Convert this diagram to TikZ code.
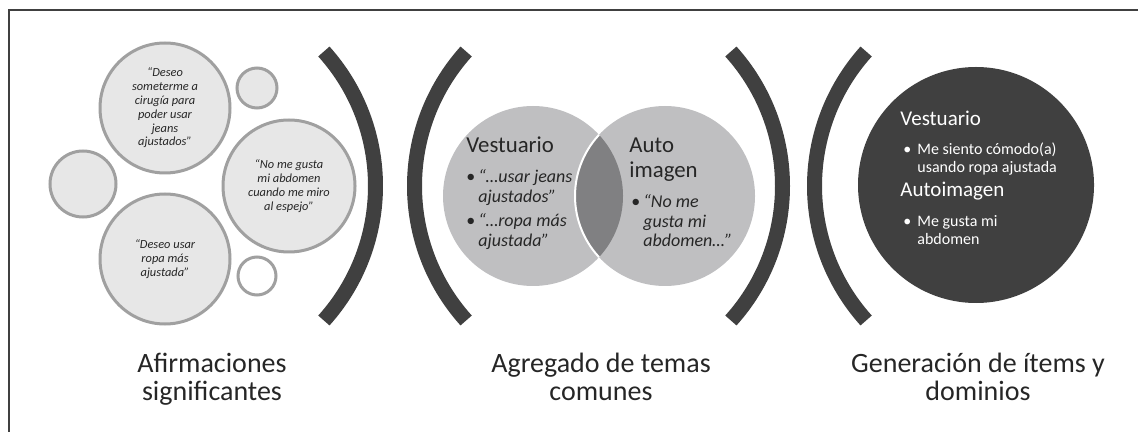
\documentclass[tikz,border=0pt]{standalone}
\usepackage{fontspec}
\setmainfont{Carlito}
\usetikzlibrary{positioning}
\definecolor{darkgrey}{HTML}{404040}
\definecolor{textgrey}{HTML}{262626}
\definecolor{bubblefill}{HTML}{E7E7E7}
\definecolor{bubbleline}{HTML}{A0A0A0}
\definecolor{venngrey}{HTML}{BFBFC1}
\definecolor{lensgrey}{HTML}{808082}
\tikzset{
  bubble/.style={circle,draw=bubbleline,line width=1.5pt,fill=bubblefill,inner sep=0pt,
    align=center,text=textgrey,font=\fontsize{6.2pt}{6.9pt}\selectfont\itshape},
  paren/.style={draw=darkgrey,line width=7.5pt},
  venn/.style={circle,fill=venngrey,inner sep=0pt,minimum size=90pt},
  darkdisc/.style={circle,fill=darkgrey,inner sep=0pt,minimum size=118pt},
  vtitle/.style={anchor=base west,inner sep=0pt,text=textgrey,font=\fontsize{11.4pt}{12.5pt}\selectfont},
  vitem/.style={anchor=base west,inner sep=0pt,text=textgrey,font=\fontsize{9pt}{9.6pt}\selectfont\itshape},
  gtitle/.style={anchor=base west,inner sep=0pt,text=white,font=\fontsize{10.5pt}{12pt}\selectfont},
  gitem/.style={anchor=base west,inner sep=0pt,text=white,font=\fontsize{8pt}{8.6pt}\selectfont},
  stagetitle/.style={anchor=base,inner sep=0pt,text=textgrey,font=\fontsize{14pt}{14pt}\selectfont}
}
\newcommand{\bitem}[2]{\begin{tabular}[t]{@{}l@{\hspace{1.5pt}}l@{}}{\upshape\textbullet}&#1\\&#2\end{tabular}}

\begin{document}
\begin{tikzpicture}[x=0.5pt,y=-0.5pt]
\useasboundingbox (0,0) rectangle (1138,432);
\draw[line width=0.6pt,darkgrey] (9,432) |- (1138,10);
% significant statements
\node (c1) [bubble,minimum size=65pt] at (165,108) {“Deseo\\someterme a\\cirugía para\\poder usar\\jeans\\ajustados”};
\node (c2) [bubble,minimum size=20pt] at (257,88) {};
\node (c3) [bubble,minimum size=33pt] at (83,184) {};
\node (c4) [bubble,minimum size=66pt] at (289,186) {“No me gusta\\mi abdomen\\cuando me miro\\al espejo”};
\node (c5) [bubble,minimum size=65pt] at (165,259) {“Deseo usar\\ropa más\\ajustada”};
\node (c6) [bubble,fill=white,minimum size=19pt] at (257,276) {};
%
\coordinate (p1) at (174.5,186);
\coordinate (p2) at (615.5,186);
\coordinate (p3) at (581.5,186);
\coordinate (p4) at (1015.5,186);
\draw[paren] (p1) ++(-42:201) arc (-42:42:201);
\draw[paren] (p2) ++(138:201) arc (138:222:201);
\draw[paren] (p3) ++(-42:201) arc (-42:42:201);
\draw[paren] (p4) ++(138:201) arc (138:222:201);
% common themes
\node (vest) [venn] at (533,196) {};
\node (auto) [venn] at (665,196) {};
\begin{scope}
  \clip (vest.center) circle (90);
  \fill[lensgrey] (auto.center) circle (90);
  \draw[white,line width=1pt] (auto.center) circle (90);
\end{scope}
\node (vt) [vtitle] at (466,153) {Vestuario};
\node (v1) [vitem] at (466,183) {\bitem{“…usar jeans}{ajustados”}};
\node (v2) [vitem] at (466,227) {\bitem{“…ropa más}{ajustada”}};
\node (at) [vtitle] at (629,153) {\begin{tabular}[t]{@{}l@{}}Auto\\imagen\end{tabular}};
\node (a1) [vitem] at (631,208) {\begin{tabular}[t]{@{}l@{\hspace{1.5pt}}l@{}}{\upshape\textbullet}&“No me\\&gusta mi\\&abdomen…”\end{tabular}};
% items and domains
\node (gen) [darkdisc] at (976,185) {};
\node (gv) [gtitle] at (900,126) {Vestuario};
\node (g1) [gitem] at (903,155) {\begin{tabular}[t]{@{}l@{\hspace{3pt}}l@{}}\textbullet&Me siento cómodo(a)\\&usando ropa ajustada\end{tabular}};
\node (ga) [gtitle] at (900,197) {Autoimagen};
\node (g2) [gitem] at (903,227) {\begin{tabular}[t]{@{}l@{\hspace{3pt}}l@{}}\textbullet&Me gusta mi\\&abdomen\end{tabular}};
%
\node (s1) [stagetitle] at (212,372) {\begin{tabular}[t]{@{}c@{}}Afirmaciones\\significantes\end{tabular}};
\node (s2) [stagetitle] at (601,372) {\begin{tabular}[t]{@{}c@{}}Agregado de temas\\comunes\end{tabular}};
\node (s3) [stagetitle] at (978,372) {\begin{tabular}[t]{@{}c@{}}Generación de ítems y\\dominios\end{tabular}};
\end{tikzpicture}
\end{document}
